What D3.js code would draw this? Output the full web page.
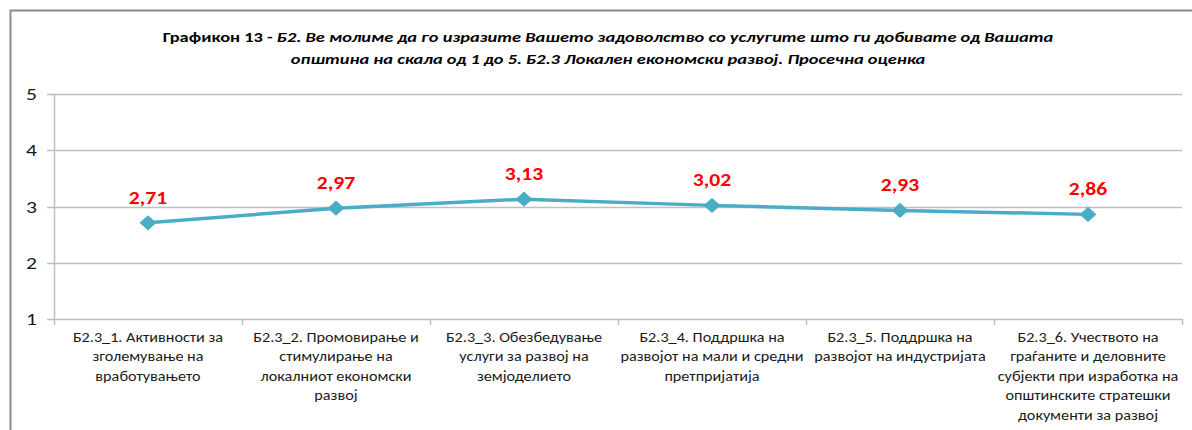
<!DOCTYPE html>
<html>
<head>
<meta charset="utf-8">
<script src="https://cdn.jsdelivr.net/npm/d3@7"></script>
<style>
  body { margin: 0; background: #fff; }
  svg { display: block; }
</style>
</head>
<body>
<div id="chart"></div>
<script>
// data
const categories = [
  ['Б2.3_1. Активности за', 'зголемување на', 'вработувањето'],
  ['Б2.3_2. Промовирање и', 'стимулирање на', 'локалниот економски', 'развој'],
  ['Б2.3_3. Обезбедување', 'услуги за развој на', 'земјоделието'],
  ['Б2.3_4. Поддршка на', 'развојот на мали и средни', 'претпријатија'],
  ['Б2.3_5. Поддршка на', 'развојот на индустријата'],
  ['Б2.3_6. Учеството на', 'граѓаните и деловните', 'субјекти при изработка на', 'општинските стратешки', 'документи за развој'],
];
const values = [2.71, 2.97, 3.13, 3.02, 2.93, 2.86];
const yTicks = [1, 2, 3, 4, 5];
const labels = ['2,71', '2,97', '3,13', '3,02', '2,93', '2,86'];

const width = 1192;
const height = 430;
const margin = { left: 54, right: 10, top: 94, bottom: 111 };
const font = "Carlito, 'Open Sans', 'Noto Sans', sans-serif";
// the source picture is stretched sideways, so text is widened to match
const stretch = 1.27;
const catStretch = 1.2;
const colors = {
  line: '#4bacc6',
  grid: '#bfbfbf',
  label: '#ff0000',
  text: '#1a1a1a',
  border: '#8c8c8c',
};

const svg = d3.select('#chart')
  .append('svg')
  .attr('width', width)
  .attr('height', height);

// outer frame
svg.append('rect')
  .attr('x', 10.5)
  .attr('y', 10.5)
  .attr('width', 1300)
  .attr('height', 600)
  .attr('fill', 'none')
  .attr('stroke', colors.border)
  .attr('stroke-width', 2);

// title
const title = svg.append('text')
  .attr('transform', `translate(608,0) scale(${stretch},1)`)
  .attr('text-anchor', 'middle')
  .attr('font-family', font)
  .attr('font-size', 14.5)
  .attr('font-weight', 'bold')
  .attr('fill', '#000');
const t1 = title.append('tspan').attr('x', 0).attr('y', 42);
t1.append('tspan').text('Графикон 13 - ');
t1.append('tspan').attr('font-style', 'italic')
  .text('Б2. Ве молиме да го изразите Вашето задоволство со услугите што ги добивате од Вашата');
title.append('tspan').attr('x', 0).attr('y', 64).attr('font-style', 'italic')
  .text('општина на скала од 1 до 5. Б2.3 Локален економски развој. Просечна оценка');

const x = d3.scaleBand()
  .domain(d3.range(categories.length))
  .range([margin.left, width - margin.right])
  .padding(0);

const y = d3.scaleLinear()
  .domain([1, 5])
  .range([height - margin.bottom, margin.top]);

// grid
svg.append('g')
  .selectAll('line')
  .data(yTicks)
  .join('line')
  .attr('x1', margin.left - 7)
  .attr('x2', width - margin.right)
  .attr('y1', (d) => Math.round(y(d)) + 0.5)
  .attr('y2', (d) => Math.round(y(d)) + 0.5)
  .attr('stroke', colors.grid)
  .attr('stroke-width', 1.5);

// y axis line
svg.append('line')
  .attr('x1', margin.left + 0.5)
  .attr('x2', margin.left + 0.5)
  .attr('y1', y(5))
  .attr('y2', y(1))
  .attr('stroke', colors.grid)
  .attr('stroke-width', 1.5);

// y labels
svg.append('g')
  .selectAll('text')
  .data(yTicks)
  .join('text')
  .attr('transform', (d) => `translate(37,${y(d) + 6}) scale(${stretch},1)`)
  .attr('text-anchor', 'end')
  .attr('font-family', font)
  .attr('font-size', 17)
  .attr('fill', colors.text)
  .text((d) => d);

// x ticks at band edges
svg.append('g')
  .selectAll('line')
  .data(d3.range(categories.length + 1))
  .join('line')
  .attr('x1', (i) => Math.round(margin.left + i * x.bandwidth()) + 0.5)
  .attr('x2', (i) => Math.round(margin.left + i * x.bandwidth()) + 0.5)
  .attr('y1', y(1))
  .attr('y2', y(1) + 6)
  .attr('stroke', colors.grid)
  .attr('stroke-width', 1.5);

// category labels
const cat = svg.append('g')
  .selectAll('text')
  .data(categories)
  .join('text')
  .attr('transform', (d, i) => `translate(${x(i) + x.bandwidth() / 2},0) scale(${catStretch},1)`)
  .attr('text-anchor', 'middle')
  .attr('font-family', font)
  .attr('font-size', 13.5)
  .attr('fill', colors.text);
cat.selectAll('tspan')
  .data((d) => d)
  .join('tspan')
  .attr('x', 0)
  .attr('y', (d, j) => y(1) + 23 + j * 19.5)
  .text((d) => d);

// line
const cx = (d, i) => x(i) + x.bandwidth() / 2;
svg.append('path')
  .datum(values)
  .attr('fill', 'none')
  .attr('stroke', colors.line)
  .attr('stroke-width', 3.5)
  .attr('d', d3.line().x(cx).y((d) => y(d)));

// markers
svg.append('g')
  .selectAll('path')
  .data(values)
  .join('path')
  .attr('transform', (d, i) => `translate(${cx(d, i)},${y(d)}) scale(1.1,1)`)
  .attr('d', d3.symbol().type(d3.symbolDiamond2).size(150))
  .attr('fill', colors.line);

// value labels
svg.append('g')
  .selectAll('text')
  .data(values)
  .join('text')
  .attr('transform', (d, i) => `translate(${cx(d, i)},${y(d) - 19}) scale(${stretch},1)`)
  .attr('text-anchor', 'middle')
  .attr('font-family', font)
  .attr('font-size', 17)
  .attr('font-weight', 'bold')
  .attr('fill', colors.label)
  .text((d, i) => labels[i]);
</script>
</body>
</html>
